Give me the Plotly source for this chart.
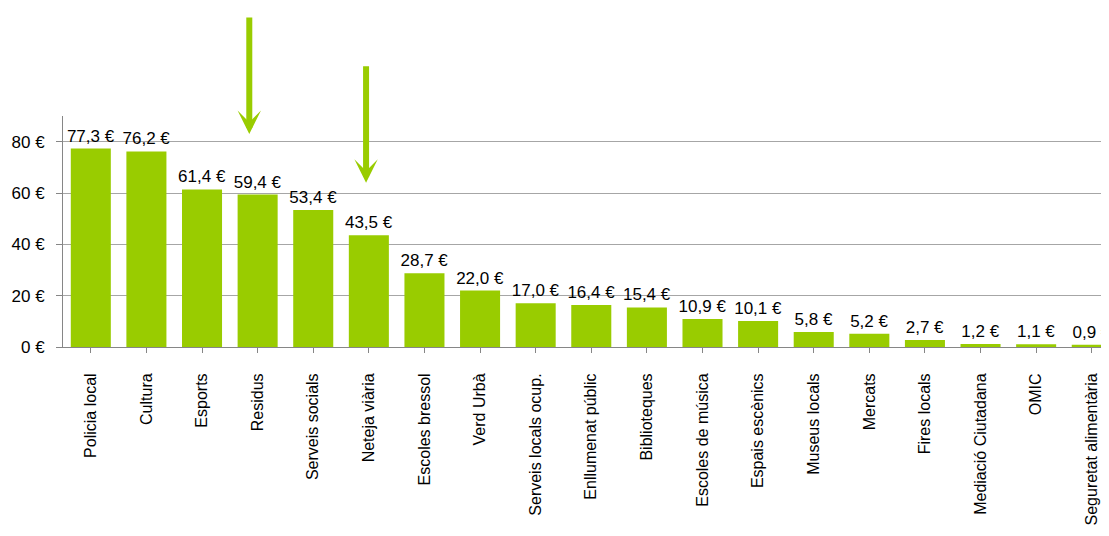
import plotly.graph_objects as go

categories = ["Policia local", "Cultura", "Esports", "Residus", "Serveis socials",
              "Neteja viària", "Escoles bressol", "Verd Urbà", "Serveis locals ocup.",
              "Enllumenat públic", "Biblioteques", "Escoles de música", "Espais escènics",
              "Museus locals", "Mercats", "Fires locals", "Mediació Ciutadana", "OMIC",
              "Seguretat alimentària"]
values = [77.3, 76.2, 61.4, 59.4, 53.4, 43.5, 28.7, 22.0, 17.0, 16.4, 15.4, 10.9, 10.1,
          5.8, 5.2, 2.7, 1.2, 1.1, 0.9]
y_ticks = [0, 20, 40, 60, 80]
highlighted = ["Residus", "Neteja viària"]

GREEN = "#99CC00"
FONT = "Liberation Sans"

labels = [f"{v:.1f}".replace(".", ",") + " €" for v in values]

fig = go.Figure(go.Bar(
    x=list(range(len(categories))), y=values,
    marker=dict(color=GREEN, line=dict(width=0)),
    width=0.72,
    text=labels, textposition="outside", cliponaxis=False, constraintext="none",
    textfont=dict(family=FONT, size=17, color="#000000"),
))

# arrows over highlighted categories
arrow_specs = [(categories.index(highlighted[0]), -0.15, 83, 129),
               (categories.index(highlighted[1]), -0.05, 64, 110)]
for idx, dx, tip, tail in arrow_specs:
    fig.add_annotation(x=idx + dx, y=tip, ax=idx + dx, ay=tail,
                       xref="x", yref="y", axref="x", ayref="y",
                       showarrow=True, arrowhead=3, arrowsize=0.65, arrowwidth=6,
                       arrowcolor=GREEN, text="")

fig.update_layout(
    width=1101, height=536,
    margin=dict(l=55, r=0, t=108, b=197, autoexpand=False),
    paper_bgcolor="white", plot_bgcolor="white",
    showlegend=False,
    font=dict(family=FONT, size=16, color="#000000"),
)
fig.update_xaxes(
    range=[-0.5, 18.31], automargin=False,
    tickmode="array", tickvals=list(range(len(categories))), ticktext=categories,
    tickangle=-90, tickson="boundaries", ticks="outside", ticklen=5,
    tickcolor="#868686", showline=True, linecolor="#868686", linewidth=1,
    showgrid=False, zeroline=False,
    tickfont=dict(family=FONT, size=16, color="#000000"),
    ticklabelstandoff=14,
)
fig.update_yaxes(
    range=[0, 90], automargin=False,
    tickmode="array", tickvals=y_ticks, ticktext=[f"{t} €" for t in y_ticks],
    ticks="outside", ticklen=6, tickcolor="#868686",
    showline=True, linecolor="#868686", linewidth=1,
    showgrid=True, gridcolor="#A6A6A6", gridwidth=1, zeroline=False,
    tickfont=dict(family=FONT, size=17, color="#000000"),
    ticklabelstandoff=8,
)

fig.write_html("out.html")
